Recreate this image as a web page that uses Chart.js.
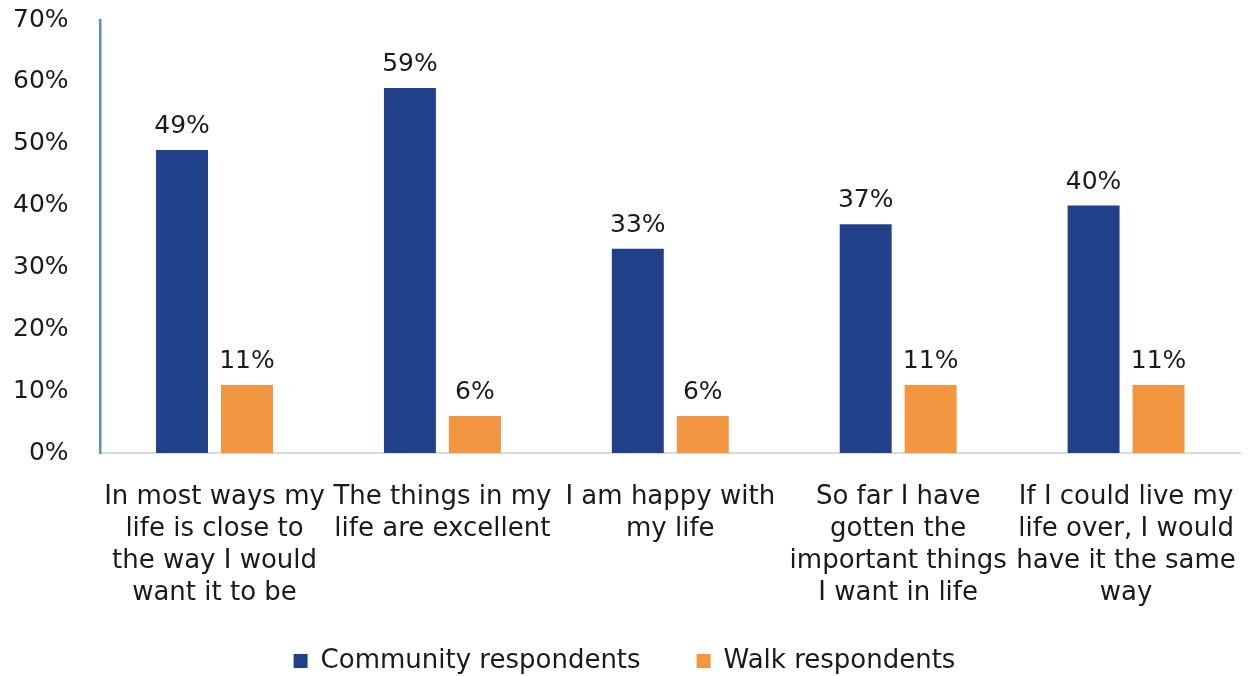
<!DOCTYPE html>
<html>
<head>
<meta charset="utf-8">
<script src="https://cdn.jsdelivr.net/npm/chart.js@4.4.0/dist/chart.umd.min.js"></script>
<style>
  html, body { margin: 0; padding: 0; background: #fff; }
  #wrap { width: 1248px; height: 676px; }
</style>
</head>
<body>
<div id="wrap"><canvas id="chart" width="1248" height="676"></canvas></div>
<script>
const categories = [
    ["In most ways my", "life is close to", "the way I would", "want it to be"],
    ["The things in my", "life are excellent"],
    ["I am happy with", "my life"],
    ["So far I have", "gotten the", "important things", "I want in life"],
    ["If I could live my", "life over, I would", "have it the same", "way"],
];
const community = [49, 59, 33, 37, 40];
const walk = [11, 6, 6, 11, 11];
const yTicks = [0, 10, 20, 30, 40, 50, 60, 70];

const FONT = "'DejaVu Sans', Verdana, sans-serif";

// draws the percent labels above each bar
const valueLabels = {
    id: "valueLabels",
    afterDatasetsDraw(chart) {
        const ctx = chart.ctx;
        ctx.save();
        ctx.font = "25px " + FONT;
        ctx.fillStyle = "#1a1a1a";
        ctx.textAlign = "center";
        ctx.textBaseline = "alphabetic";
        chart.data.datasets.forEach((ds, i) => {
            const meta = chart.getDatasetMeta(i);
            meta.data.forEach((bar, j) => {
                ctx.fillText(ds.data[j] + "%", bar.x, bar.y - 17);
            });
        });
        ctx.restore();
    },
};

// the x axis box is squeezed so the legend sits lower; let its labels run past it
const unclipX = {
    id: "unclipX",
    afterLayout(chart) {
        chart.scales.x.bottom = chart.height;
    },
};

new Chart(document.getElementById("chart"), {
    type: "bar",
    data: {
        labels: categories,
        datasets: [
            {
                label: "Community respondents",
                data: community,
                backgroundColor: "#21408a",
                categoryPercentage: 0.57,
                barPercentage: 0.8,
            },
            {
                label: "Walk respondents",
                data: walk,
                backgroundColor: "#f39641",
                categoryPercentage: 0.57,
                barPercentage: 0.8,
            },
        ],
    },
    options: {
        responsive: false,
        animation: false,
        layout: {
            padding: { left: 9, right: 8, top: 20, bottom: 0 },
        },
        plugins: {
            legend: {
                position: "bottom",
                maxHeight: 84,
                labels: {
                    font: { family: FONT, size: 26 },
                    color: "#1a1a1a",
                    boxWidth: 14,
                    boxHeight: 14,
                    padding: 56,
                },
            },
            tooltip: { enabled: false },
        },
        scales: {
            x: {
                grid: { display: false, tickLength: 28 },
                border: { display: true, color: "#d9d9d9", width: 2 },
                ticks: {
                    font: { family: FONT, size: 26, lineHeight: 1.23 },
                    color: "#1a1a1a",
                    maxRotation: 0,
                    minRotation: 0,
                    autoSkip: false,
                    padding: 0,
                },
                afterFit(axis) {
                    axis.height = 139;
                },
            },
            y: {
                min: 0,
                max: 70,
                afterBuildTicks(axis) {
                    axis.ticks = yTicks.map((v) => ({ value: v }));
                },
                grid: { display: false, tickLength: 28 },
                border: { display: true, color: "#5b8fc0", width: 2.5 },
                ticks: {
                    font: { family: FONT, size: 25 },
                    color: "#1a1a1a",
                    padding: 4,
                    callback: (v) => v + "%",
                },
            },
        },
    },
    plugins: [valueLabels, unclipX],
});
</script>
</body>
</html>
